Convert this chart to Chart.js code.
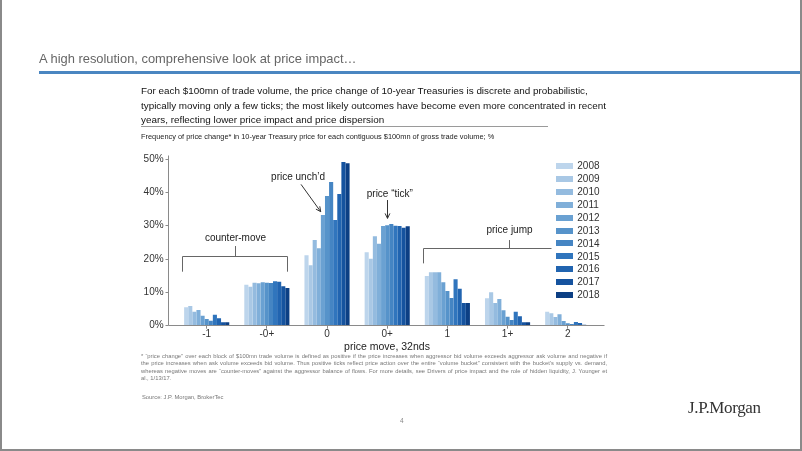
<!DOCTYPE html>
<html><head><meta charset="utf-8">
<script src="https://cdn.jsdelivr.net/npm/chart.js@4.4.1/dist/chart.umd.min.js"></script>
<style>
html,body{margin:0;padding:0;background:#fff;}
#page{position:relative;width:802px;height:451px;overflow:hidden;font-family:"Liberation Sans",Arial,sans-serif;background:#fff;}
.t{position:absolute;white-space:nowrap;}
.fn{position:absolute;left:141px;width:466px;font-size:5.8px;line-height:7.3px;color:#777;white-space:nowrap;text-align:justify;text-align-last:justify;}
</style></head><body><div id="page">
<canvas id="c" width="802" height="451" style="position:absolute;left:0;top:0;width:802px;height:451px"></canvas>
<div class="t" style="left:39px;top:52px;font-size:12.9px;line-height:14px;color:#666">A high resolution, comprehensive look at price impact…</div>
<div style="position:absolute;left:39px;top:71px;width:763px;height:3px;background:#4a86c1"></div>
<div class="t" style="left:141px;top:84px;font-size:9.9px;line-height:14.5px;color:#111">For each $100mn of trade volume, the price change of 10-year Treasuries is discrete and probabilistic,<br>typically moving only a few ticks; the most likely outcomes have become even more concentrated in recent<br>years, reflecting lower price impact and price dispersion</div>
<div style="position:absolute;left:141px;top:126px;width:407px;height:1px;background:#9a9a9a"></div>
<div class="t" style="left:141px;top:131.5px;font-size:7.4px;line-height:9px;color:#222">Frequency of price change* in 10-year Treasury price for each contiguous $100mn of gross trade volume; %</div>
<div class="t" style="left:287px;top:339.5px;width:200px;text-align:center;font-size:10.5px;line-height:12px;color:#222">price move, 32nds</div>
<div class="fn" style="top:353px">* “price change” over each block of $100mn trade volume is defined as positive if the price increases when aggressor bid volume exceeds aggressor ask volume and negative if</div>
<div class="fn" style="top:360.3px">the price increases when ask volume exceeds bid volume. Thus positive ticks reflect price action over the entire “volume bucket” consistent with the bucket’s supply vs. demand,</div>
<div class="fn" style="top:367.6px">whereas negative moves are “counter-moves” against the aggressor balance of flows. For more details, see Drivers of price impact and the role of hidden liquidity, J. Younger et</div>
<div class="fn" style="top:374.9px;text-align-last:left">al., 1/13/17.</div>
<div class="t" style="left:142px;top:394px;font-size:5.8px;line-height:7px;color:#777">Source: J.P. Morgan, BrokerTec</div>
<div class="t" style="left:400px;top:417px;font-size:6.5px;line-height:8px;color:#888">4</div>
<div class="t" style="left:688px;top:399px;font-size:17px;line-height:18px;color:#333;font-family:'Liberation Serif',serif;letter-spacing:-0.35px">J.P.Morgan</div>
<div style="position:absolute;left:0;top:0;width:2px;height:451px;background:#8a8a8a"></div>
<div style="position:absolute;left:800px;top:0;width:2px;height:451px;background:#8a8a8a"></div>
<div style="position:absolute;left:0;top:449px;width:802px;height:2px;background:#8a8a8a"></div>
</div>
<script>
const categories = ['-1', '-0+', '0', '0+', '1', '1+', '2'];
const years = ['2008', '2009', '2010', '2011', '2012', '2013', '2014', '2015', '2016', '2017', '2018'];
const yTickValues = [0, 10, 20, 30, 40, 50];
const v2008 = [5.5, 12.3, 21.1, 22.0, 14.9, 8.2, 4.2];
const v2009 = [5.9, 11.7, 18.1, 20.1, 16.0, 10.0, 3.7];
const v2010 = [4.2, 12.9, 25.7, 26.8, 16.0, 6.8, 2.6];
const v2011 = [4.7, 12.7, 23.2, 24.6, 16.0, 8.0, 3.4];
const v2012 = [3.0, 13.0, 33.2, 29.9, 13.0, 4.6, 1.4];
const v2013 = [2.0, 12.9, 38.9, 30.1, 10.4, 2.7, 0.7];
const v2014 = [1.5, 12.8, 43.1, 30.5, 8.3, 1.7, 0.5];
const v2015 = [3.3, 13.3, 31.7, 30.0, 13.9, 4.2, 1.1];
const v2016 = [2.2, 13.2, 39.5, 29.9, 11.1, 2.8, 0.8];
const v2017 = [1.0, 11.8, 49.1, 29.4, 6.8, 1.0, 0.3];
const v2018 = [1.0, 11.3, 48.7, 29.8, 6.8, 1.0, 0.2];
const seriesValues = [v2008, v2009, v2010, v2011, v2012, v2013, v2014, v2015, v2016, v2017, v2018];
const colors = ['#bdd5ec', '#a9c8e5', '#94bbdf', '#80afd9', '#6aa1d2', '#5693ca', '#4585c3', '#3075bd', '#2164b0', '#15539f', '#0c3f84'];

const FONT = '"Liberation Sans", Arial, sans-serif';

const deco = {
  id: 'deco',
  afterDraw(chart) {
    const {ctx, chartArea: ca, scales: {x, y}} = chart;
    const xc = i => x.getPixelForValue(i);
    const yv = v => y.getPixelForValue(v);
    const sn = p => Math.floor(p) + 0.5;
    ctx.save();
    ctx.lineWidth = 1;
    ctx.strokeStyle = '#8a8a8a';
    const ax = sn(ca.left - 8);
    const y0 = sn(yv(0));
    ctx.beginPath();
    ctx.moveTo(ax, sn(yv(y.max)));
    ctx.lineTo(ax, y0);
    ctx.lineTo(sn(ca.right + 7), y0);
    y.ticks.forEach(t => { const py = sn(yv(t.value)); ctx.moveTo(ax - 3, py); ctx.lineTo(ax, py); });
    ctx.stroke();

    ctx.strokeStyle = '#666';
    ctx.fillStyle = '#222';
    ctx.font = '10px ' + FONT;
    ctx.textAlign = 'center';
    ctx.textBaseline = 'middle';
    const line = (pts) => { ctx.beginPath(); ctx.moveTo(pts[0][0], pts[0][1]); for (let k = 1; k < pts.length; k++) ctx.lineTo(pts[k][0], pts[k][1]); ctx.stroke(); };
    const arrow = (x1, y1, x2, y2) => {
      ctx.strokeStyle = '#333';
      line([[x1, y1], [x2, y2]]);
      const a = Math.atan2(y2 - y1, x2 - x1), L = 5.5, s = 0.45;
      line([[x2 - L * Math.cos(a - s), y2 - L * Math.sin(a - s)], [x2, y2], [x2 - L * Math.cos(a + s), y2 - L * Math.sin(a + s)]]);
    };
    {
      const L = sn(xc(0) - 24.4), R = sn(xc(1) + 20.4), yb = sn(yv(20.7)), yd = yv(16.2), M = sn((L + R) / 2);
      ctx.strokeStyle = '#666';
      line([[L, yd], [L, yb], [R, yb], [R, yd]]);
      line([[M, yb], [M, yv(23.9)]]);
      ctx.fillText('counter-move', M, yv(26.3));
    }
    ctx.fillText('price unch’d', xc(2) - 29, yv(44.4));
    arrow(xc(2) - 26, yv(42.4), xc(2) - 6.3, yv(34.2));
    ctx.fillText('price “tick”', xc(3) + 2.6, yv(39.5));
    arrow(sn(xc(3)), yv(37.7), sn(xc(3)), yv(32.2));
    {
      const L = sn(xc(4) - 24.3), R = sn(xc(6) - 16.2), yb = sn(yv(23.2)), M = sn(xc(5) + 2.4);
      ctx.strokeStyle = '#666';
      line([[L, yv(18.7)], [L, yb], [R, yb]]);
      line([[M, yb], [M, yv(25.7)]]);
      ctx.fillStyle = '#222';
      ctx.fillText('price jump', M, yv(28.5));
    }
    ctx.textAlign = 'left';
    chart.data.datasets.forEach((ds, i) => {
      const cy = ca.top + 10.3 + i * 12.9;
      ctx.fillStyle = ds.backgroundColor;
      ctx.fillRect(ca.right - 41.8, Math.round(cy - 3), 17, 6);
      ctx.fillStyle = '#333';
      ctx.fillText(ds.label, ca.right - 20.5, cy + 0.5);
    });
    ctx.restore();
  }
};

new Chart(document.getElementById('c'), {
  type: 'bar',
  data: {
    labels: categories,
    datasets: years.map((yr, i) => ({
      label: yr,
      data: seriesValues[i],
      backgroundColor: colors[i],
      borderWidth: 0,
      categoryPercentage: 0.75,
      barPercentage: 1.0
    }))
  },
  options: {
    responsive: false,
    animation: false,
    devicePixelRatio: 1,
    layout: {padding: {left: 0, right: 204.2, top: 155.7, bottom: 109.3}},
    plugins: {legend: {display: false}, tooltip: {enabled: false}},
    scales: {
      x: {
        type: 'category',
        offset: true,
        grid: {display: true, drawOnChartArea: false, drawTicks: true, tickLength: 3, offset: false, color: '#8a8a8a'},
        border: {display: false},
        ticks: {font: {family: FONT, size: 10}, color: '#333', padding: 0, maxRotation: 0, autoSkip: false},
        afterFit(s) { s.height = 16; }
      },
      y: {
        min: 0, max: 51,
        grid: {display: false, drawTicks: false},
        border: {display: false},
        ticks: {padding: 13, font: {family: FONT, size: 10}, color: '#333', callback: v => v + '%'},
        afterBuildTicks(s) { s.ticks = yTickValues.map(v => ({value: v})); },
        afterFit(s) { s.width = 176.6; }
      }
    }
  },
  plugins: [deco]
});
</script>
</body></html>
